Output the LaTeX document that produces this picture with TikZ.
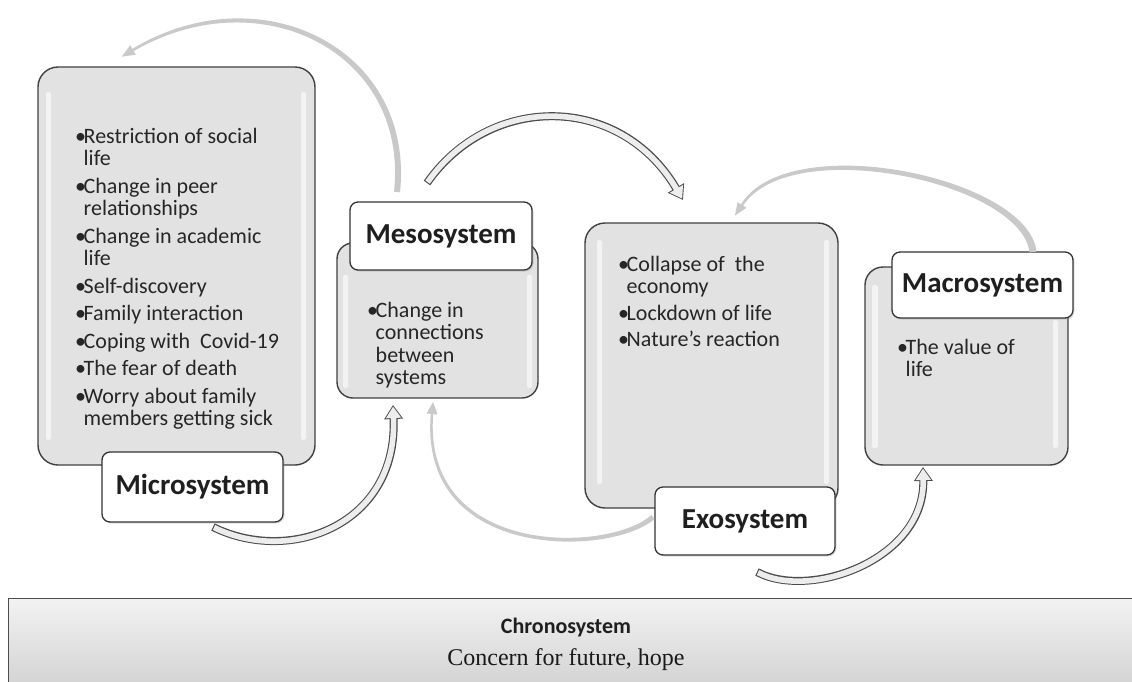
\documentclass[tikz,border=0pt]{standalone}
\usepackage{fontspec}
\setmainfont{Carlito}
\newfontfamily\chronoserif{Liberation Serif}
\usetikzlibrary{arrows.meta,shadows}
\newcommand\bl{\makebox[8.5pt][l]{\textbullet}}
\newcommand\cn{\hspace*{8.5pt}}
\tikzset{
  bigbox/.style={draw=black!75, line width=1.4pt, rounded corners=20pt, fill=gray!23, inner sep=0pt},
  lblbox/.style={draw=black!80, line width=1.3pt, rounded corners=8pt, fill=white, inner sep=0pt,
    font=\fontsize{29}{32}\selectfont\bfseries, text=black!88,
    drop shadow={shadow xshift=1.5pt, shadow yshift=-1.5pt, opacity=0.25}},
  items/.style={anchor=north west, inner sep=0pt, align=left, font=\fontsize{22}{22.5}\selectfont, text=black!85},
  hilite/.style={fill=white, opacity=0.6, rounded corners=2pt},
  arrowedge/.style={line width=8pt, draw=black!70, -{Triangle[length=14pt,width=18pt]}},
  arrowfill/.style={line width=5.6pt, draw=gray!14, shorten >=1.6pt, shorten <=1.1pt, -{Triangle[length=11.4pt,width=14.6pt]}},
  grayarrow/.style={fill=gray!42, draw=none},
}
\begin{document}
\begin{tikzpicture}[x=1pt,y=-1pt]
\useasboundingbox (0,0) rectangle (1132,681);
\fill[white] (0,0) rectangle (1132,681);

% ---------- big boxes ----------
\node[bigbox, minimum width=277pt, minimum height=398pt] (micbox) at (176.5,266) {};
\fill[hilite] (46,92) rectangle (51,440);
\fill[hilite] (301,92) rectangle (306,440);

\node[bigbox, rounded corners=16pt, minimum width=201pt, minimum height=155pt] (mesbox) at (437.5,320.5) {};
\fill[hilite] (343,275) rectangle (348,388);
\fill[hilite] (527,275) rectangle (532,388);

\node[bigbox, minimum width=253pt, minimum height=285pt] (exobox) at (711.5,365.5) {};
\fill[hilite] (597,240) rectangle (602,484);
\fill[hilite] (824,240) rectangle (829,484);

\node[bigbox, rounded corners=18pt, minimum width=203pt, minimum height=198pt] (macbox) at (966.5,366) {};
\fill[hilite] (872,285) rectangle (878,448);
\fill[hilite] (1053,320) rectangle (1058,448);

% ---------- item texts ----------
\node[items] (mictxt) at (75,128) {\bl Restriction of social\\ \cn life\\[5pt]
 \bl Change in peer\\ \cn relationships\\[5pt]
 \bl Change in academic\\ \cn life\\[5pt]
 \bl Self-discovery\\[5pt]
 \bl Family interaction\\[5pt]
 \bl Coping with\ \ Covid-19\\[5pt]
 \bl The fear of death\\[5pt]
 \bl Worry about family\\ \cn members getting sick};

\node[items] (mestxt) at (367,302) {\bl Change in\\ \cn connections\\ \cn between\\ \cn systems};

\node[items] (exotxt) at (618,256) {\bl Collapse of\ \ the\\ \cn economy\\[4pt]
 \bl Lockdown of life\\[4pt]
 \bl Nature's reaction};

\node[items] (mactxt) at (897,339) {\bl The value of\\ \cn life};

% ---------- label boxes ----------
\node[lblbox, minimum width=181pt, minimum height=70pt] (miclbl) at (192.5,487) {Microsystem};
\node[lblbox, minimum width=182pt, minimum height=68pt] (meslbl) at (441,236) {Mesosystem};
\node[lblbox, minimum width=180pt, minimum height=68pt] (exolbl) at (745,521) {Exosystem};
\node[lblbox, minimum width=181pt, minimum height=66pt] (maclbl) at (982.5,285) {Macrosystem};

% ---------- chronosystem ----------
\node[draw=black!70, line width=1.3pt, top color=gray!10, bottom color=gray!38,
      minimum width=1140pt, minimum height=100pt, anchor=north west, inner sep=0pt] (chrono) at (8,598) {};
\node[font=\fontsize{22}{24}\selectfont\bfseries, text=black!88] (chronot) at (566,627) {Chronosystem};
\node[font=\chronoserif\fontsize{24}{26}\selectfont, text=black!90] (chronod) at (566,660) {Concern for future, hope};

% ---------- hollow arrows ----------
\coordinate (a1s) at (213,527);
\coordinate (a1e) at (393,405);
\draw[arrowedge] (a1s) .. controls (290,565) and (398,525) .. (a1e);
\draw[arrowfill] (a1s) .. controls (290,565) and (398,525) .. (a1e);

\coordinate (a2s) at (427,183);
\coordinate (a2e) at (683,200);
\draw[arrowedge] (a2s) .. controls (490,93) and (620,93) .. (a2e);
\draw[arrowfill] (a2s) .. controls (490,93) and (620,93) .. (a2e);

\coordinate (a3s) at (757,572);
\coordinate (a3e) at (923,467);
\draw[arrowedge] (a3s) .. controls (810,600) and (925,560) .. (a3e);
\draw[arrowfill] (a3s) .. controls (810,600) and (925,560) .. (a3e);

% ---------- gray tapered arrows ----------
% Meso -> Micro
\fill[grayarrow] (400,192.3) .. controls (415,48) and (260,-28) .. (132.4,48.9)
  -- (130.2,45.3) -- (121.8,56.6) -- (135.8,54.7) -- (133.6,51.1)
  .. controls (260,-22) and (409,52) .. (394,191.7) -- cycle;
% Exo -> Meso
\fill[grayarrow] (654.6,518.9) .. controls (611,557) and (418,562) .. (430.8,413.9)
  -- (426.5,413.5) -- (433.1,402) -- (437.5,414.5) -- (433.2,414.1)
  .. controls (422,558) and (609,553) .. (651.4,515.1) -- cycle;
% Macro -> Exo
\fill[grayarrow] (1036.5,251.6) .. controls (1028.5,177.5) and (789,127) .. (740.9,204.4)
  -- (737.5,202.2) -- (735,215.5) -- (746.5,207.8) -- (743.1,205.6)
  .. controls (791,133) and (1021.5,182.5) .. (1029.5,252.4) -- cycle;
\end{tikzpicture}
\end{document}
